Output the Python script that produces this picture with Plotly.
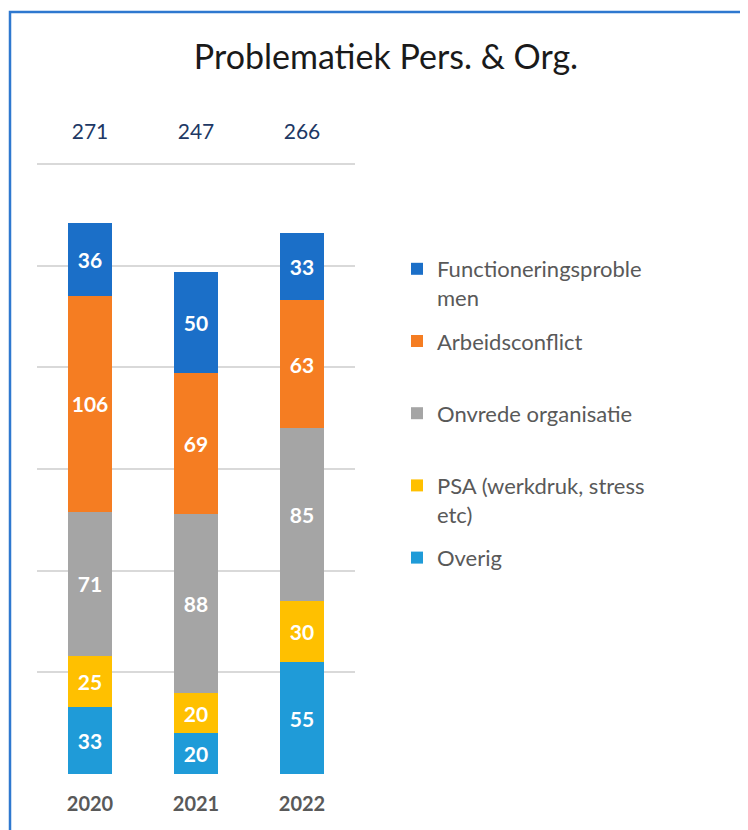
import plotly.graph_objects as go

years = ["2020", "2021", "2022"]
series_names = ["Overig", "PSA (werkdruk, stress etc)", "Onvrede organisatie",
                "Arbeidsconflict", "Functioneringsproblemen"]
legend_labels = ["Overig<br>\u00a0", "PSA (werkdruk, stress<br>etc)", "Onvrede organisatie<br>\u00a0",
                 "Arbeidsconflict<br>\u00a0", "Functioneringsproble<br>men"]
overig = [33, 20, 55]
psa = [25, 20, 30]
onvrede = [71, 88, 85]
arbeid = [106, 69, 63]
func = [36, 50, 33]
colors = ["#1F9BD8", "#FFC000", "#A5A5A5", "#F57D22", "#1B6FC8"]
grid_ticks = [0, 50, 100, 150, 200, 250, 300]

values = [overig, psa, onvrede, arbeid, func]
totals = [sum(v) for v in zip(*values)]
label_y = 315

FONT = "Lato"
# page is drawn with an 8px body margin: figure coords = page coords - 8
W, H = 740, 822
PL, PR, PT, PB = 29, 347, 95, 766  # plot area in figure px

fig = go.Figure()
n = len(series_names)
for i, (name, lab, vals, col) in enumerate(zip(series_names, legend_labels, values, colors)):
    fig.add_trace(go.Bar(
        x=years, y=vals, name=lab, legendgroup=name, legendrank=n - i,
        marker=dict(color=col, line=dict(width=0)),
        text=[str(v) for v in vals], textposition="inside", insidetextanchor="middle",
        textfont=dict(family=FONT, size=21, color="white", weight="bold"),
        textangle=0, hoverinfo="skip",
    ))

fig.add_trace(go.Scatter(
    x=years, y=[label_y] * len(years), mode="text", text=[str(t) for t in totals],
    textfont=dict(family=FONT, size=21, color="#203864"), showlegend=False,
    cliponaxis=False, hoverinfo="skip",
))

fig.update_layout(
    width=W, height=H,
    barmode="stack", bargap=0.59,
    paper_bgcolor="white", plot_bgcolor="white",
    margin=dict(l=PL, r=W - PR, t=PT, b=H - PB),
    title=dict(text="Problematiek Pers. & Org.", x=378 / W, xanchor="center",
               y=1 - 49 / H, yanchor="middle", yref="container",
               font=dict(family=FONT, size=34, color="#1a1a1a")),
    legend=dict(x=(389 - PL) / (PR - PL), xanchor="left", y=(PB - 240) / (PB - PT), yanchor="top",
                traceorder="grouped", tracegroupgap=12, valign="top",
                font=dict(family=FONT, size=22, color="#595959"),
                bgcolor="rgba(0,0,0,0)", itemclick=False),
    showlegend=True,
)
fig.update_xaxes(showgrid=False, showline=False, ticks="", ticklabelstandoff=16,
                 tickfont=dict(family=FONT, size=20, color="#595959", weight="bold"))
fig.update_yaxes(range=[0, 330], tickvals=grid_ticks, showgrid=True, gridcolor="#D9D9D9", gridwidth=2,
                 zeroline=False, showticklabels=False, ticks="", showline=False)

fig.add_shape(type="rect", xref="paper", yref="paper",
              x0=(2 - PL) / (PR - PL), x1=(760 - PL) / (PR - PL),
              y0=(PB - 840) / (PB - PT), y1=(PB - 4) / (PB - PT),
              line=dict(color="#2E78CF", width=2.5), fillcolor="rgba(0,0,0,0)", layer="above")

fig.write_html("out.html")
